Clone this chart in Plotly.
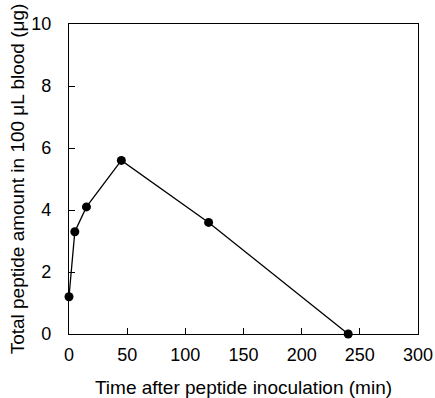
import plotly.graph_objects as go

time_min = [0, 5, 15, 45, 120, 240]
peptide_ug = [1.2, 3.3, 4.1, 5.6, 3.6, 0.0]
x_ticks = [0, 50, 100, 150, 200, 250, 300]
y_ticks = [0, 2, 4, 6, 8, 10]

fig = go.Figure()
fig.add_trace(go.Scatter(
    x=time_min, y=peptide_ug, mode="lines+markers",
    line=dict(color="black", width=1.3),
    marker=dict(color="black", size=9),
    cliponaxis=False, showlegend=False,
))

family = "Liberation Sans, Arial, sans-serif"
fig.update_layout(
    width=435, height=398,
    margin=dict(l=69, r=17, t=24, b=64),
    paper_bgcolor="white", plot_bgcolor="white",
    font=dict(family=family, size=16, color="black"),
)
fig.update_xaxes(
    range=[0, 300], tickvals=x_ticks, ticks="inside", ticklen=6, tickcolor="black",
    tickfont=dict(size=18), ticklabelstandoff=4, ticklabeloverflow="allow",
    showline=True, linecolor="black", linewidth=1.3, mirror=True,
    showgrid=False, zeroline=False, automargin=False,
    title=dict(text="Time after peptide inoculation (min)", standoff=21, font=dict(size=19)),
)
fig.update_yaxes(
    range=[0, 10], tickvals=y_ticks, ticks="inside", ticklen=6, tickcolor="black",
    tickfont=dict(size=18), ticklabelstandoff=13, ticklabeloverflow="allow",
    showline=True, linecolor="black", linewidth=1.3, mirror=True,
    showgrid=False, zeroline=False, automargin=False,
    title=dict(text="Total peptide amount in 100 \u03bcL blood (\u03bcg)", standoff=1, font=dict(size=19)),
)
fig.write_html(
    "out.html",
    config={"displayModeBar": False},
    post_script="document.body.style.margin='0';document.body.style.overflow='hidden';",
)
